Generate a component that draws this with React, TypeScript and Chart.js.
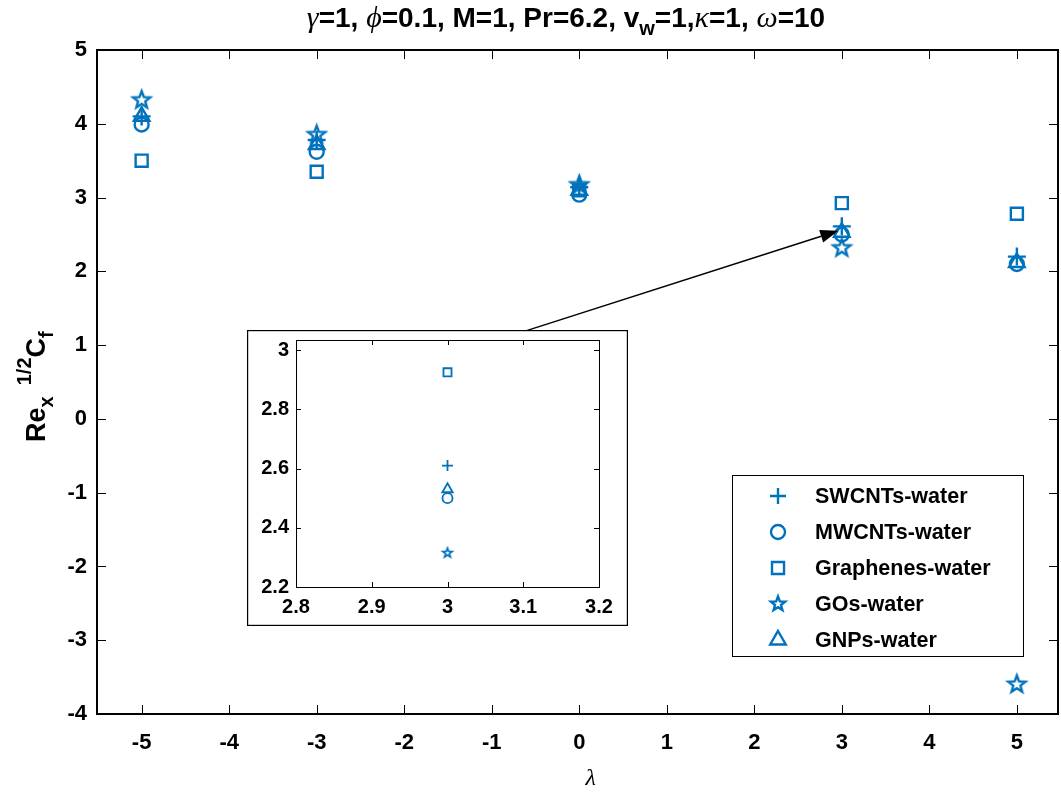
import React, { useEffect, useRef } from 'react';
import { Chart, registerables } from 'chart.js';

Chart.register(...registerables);

// ---------- data ----------
const lambdaValues = [-5, -3, 0, 3, 5];
const swcntsWater = [4.1, 3.78, 3.14, 2.61, 2.2];
const mwcntsWater = [3.99, 3.62, 3.04, 2.5, 2.1];
const graphenesWater = [3.5, 3.35, 3.1, 2.925, 2.78];
const gosWater = [4.32, 3.85, 3.17, 2.315, -3.6];
const gnpsWater = [4.1, 3.72, 3.1, 2.53, 2.12];
const seriesNames = ['SWCNTs-water', 'MWCNTs-water', 'Graphenes-water', 'GOs-water', 'GNPs-water'];

const xTicks = [-5, -4, -3, -2, -1, 0, 1, 2, 3, 4, 5];
const yTicks = [5, 4, 3, 2, 1, 0, -1, -2, -3, -4];
const insetLambda = 3;
const insetXTicks = [2.8, 2.9, 3, 3.1, 3.2];
const insetYTicks = [2.2, 2.4, 2.6, 2.8, 3];

const arrowFrom = { x: -0.62, y: 1.19 };
const arrowTo = { x: 2.96, y: 2.55 };

// ---------- styles ----------
const FONT = '"Liberation Sans", Arial, Helvetica, sans-serif';
const GREEK = '"Liberation Serif", "DejaVu Serif", serif';
const BLUE = '#0072BD';
const seriesValues = [swcntsWater, mwcntsWater, graphenesWater, gosWater, gnpsWater];
const markerStyles = ['cross', 'circle', 'rect', 'star', 'triangle'];
const mainRadius = [9, 7, 8.5, 9, 9];
const insetRadius = [5.5, 5, 5.7, 5, 6];
const legendRadius = [8, 7, 8.5, 7.5, 9];

function pathMarker(ctx: CanvasRenderingContext2D, style: string, x: number, y: number, r: number) {
  ctx.beginPath();
  if (style === 'cross') {
    ctx.moveTo(x - r, y); ctx.lineTo(x + r, y);
    ctx.moveTo(x, y - r); ctx.lineTo(x, y + r);
  } else if (style === 'circle') {
    ctx.arc(x, y, r, 0, Math.PI * 2);
  } else if (style === 'rect') {
    const s = r * Math.SQRT1_2;
    ctx.rect(x - s, y - s, 2 * s, 2 * s);
  } else if (style === 'triangle') {
    for (let k = 0; k < 3; k++) {
      const a = -Math.PI / 2 + (k * 2 * Math.PI) / 3;
      const px = x + r * Math.cos(a), py = y + r * Math.sin(a);
      if (k === 0) ctx.moveTo(px, py); else ctx.lineTo(px, py);
    }
    ctx.closePath();
  } else if (style === 'star') {
    for (let k = 0; k < 10; k++) {
      const a = -Math.PI / 2 + (k * Math.PI) / 5;
      const rr = k % 2 === 0 ? r : r * 0.42;
      const px = x + rr * Math.cos(a), py = y + rr * Math.sin(a);
      if (k === 0) ctx.moveTo(px, py); else ctx.lineTo(px, py);
    }
    ctx.closePath();
  }
}

function makeStarImage(R: number, lw: number) {
  const size = Math.ceil(2 * (R + lw) + 2);
  const c = document.createElement('canvas');
  c.width = size; c.height = size;
  const g = c.getContext('2d')!;
  g.strokeStyle = BLUE; g.lineWidth = lw; g.lineJoin = 'miter';
  pathMarker(g, 'star', size / 2, size / 2, R);
  g.stroke();
  return c;
}

const fmt = (v: number) => String(Math.round(v * 100) / 100);

type Seg = { t: string; f: string; dy?: number };
function drawRich(ctx: CanvasRenderingContext2D, segs: Seg[], x: number, y: number, center: boolean) {
  let total = 0;
  for (const s of segs) { ctx.font = s.f; total += ctx.measureText(s.t).width; }
  let cx = center ? x - total / 2 : x;
  ctx.textBaseline = 'alphabetic';
  ctx.textAlign = 'left';
  for (const s of segs) {
    ctx.font = s.f;
    ctx.fillText(s.t, cx, y + (s.dy || 0));
    cx += ctx.measureText(s.t).width;
  }
}

const zeroPad = (a: any) => { a.paddingLeft = 0; a.paddingRight = 0; a.paddingTop = 0; a.paddingBottom = 0; };

export default function App() {
  const mainRef = useRef<HTMLCanvasElement>(null);
  const insetRef = useRef<HTMLCanvasElement>(null);

  useEffect(() => {
    const mainDatasets = seriesValues.map((vals, i) => ({
      label: seriesNames[i],
      data: lambdaValues.map((x, j) => ({ x, y: vals[j] })),
      showLine: false,
      pointStyle: markerStyles[i] === 'star' ? makeStarImage(mainRadius[i], 2.4) : markerStyles[i],
      pointRadius: mainRadius[i],
      pointBorderWidth: 2.4,
      pointBorderColor: BLUE,
      pointBackgroundColor: 'rgba(0,0,0,0)',
    }));

    const idx = lambdaValues.indexOf(insetLambda);
    const insetDatasets = seriesValues.map((vals, i) => ({
      label: seriesNames[i],
      data: [{ x: lambdaValues[idx], y: vals[idx] }],
      showLine: false,
      pointStyle: markerStyles[i] === 'star' ? makeStarImage(insetRadius[i], 1.7) : markerStyles[i],
      pointRadius: insetRadius[i],
      pointBorderWidth: 1.8,
      pointBorderColor: BLUE,
      pointBackgroundColor: 'rgba(0,0,0,0)',
    }));

    const mainDecor = {
      id: 'mainDecor',
      afterDraw(chart: any) {
        const ctx: CanvasRenderingContext2D = chart.ctx;
        const { left, right, top, bottom } = chart.chartArea;
        const xs = chart.scales.x, ys = chart.scales.y;
        ctx.save();
        // inward ticks
        ctx.strokeStyle = '#000'; ctx.lineWidth = 1;
        ctx.beginPath();
        for (const v of xTicks) {
          const px = Math.round(xs.getPixelForValue(v)) + 0.5;
          ctx.moveTo(px, bottom); ctx.lineTo(px, bottom - 9);
          ctx.moveTo(px, top); ctx.lineTo(px, top + 9);
        }
        for (const v of yTicks) {
          const py = Math.round(ys.getPixelForValue(v)) + 0.5;
          ctx.moveTo(left, py); ctx.lineTo(left + 9, py);
          ctx.moveTo(right, py); ctx.lineTo(right - 9, py);
        }
        ctx.stroke();
        // box
        ctx.lineWidth = 2;
        ctx.strokeRect(left, top, right - left, bottom - top);

        // title
        ctx.fillStyle = '#000';
        const B = `bold 28px ${FONT}`;
        const Bs = `bold 20px ${FONT}`;
        const G = `italic 30px ${GREEK}`;
        drawRich(ctx, [
          { t: 'γ', f: G }, { t: '=1, ', f: B },
          { t: 'ϕ', f: G }, { t: '=0.1, M=1, Pr=6.2, v', f: B },
          { t: 'w', f: Bs, dy: 8 }, { t: '=1,', f: B },
          { t: 'κ', f: G }, { t: '=1, ', f: B },
          { t: 'ω', f: G }, { t: '=10', f: B },
        ], 566, 27, true);

        // x label
        ctx.font = `italic 24px ${GREEK}`;
        ctx.textAlign = 'center'; ctx.textBaseline = 'middle';
        ctx.fillText('λ', xs.getPixelForValue(0.13), 779);

        // y label
        ctx.save();
        ctx.translate(45, 442);
        ctx.rotate(-Math.PI / 2);
        const YB = `bold 27px ${FONT}`;
        const YS = `bold 20px ${FONT}`;
        drawRich(ctx, [
          { t: 'Re', f: YB }, { t: 'x', f: YS, dy: 8 }, { t: '  ', f: YS },
          { t: '1/2', f: YS, dy: -14 }, { t: 'C', f: YB }, { t: 'f', f: YS, dy: 8 },
        ], 0, 0, false);
        ctx.restore();

        // arrow
        const ax0 = xs.getPixelForValue(arrowFrom.x), ay0 = ys.getPixelForValue(arrowFrom.y);
        const ax1 = xs.getPixelForValue(arrowTo.x), ay1 = ys.getPixelForValue(arrowTo.y);
        const ang = Math.atan2(ay1 - ay0, ax1 - ax0);
        const hl = 18, hw = 6.5;
        const bx = ax1 - hl * Math.cos(ang), by = ay1 - hl * Math.sin(ang);
        ctx.strokeStyle = '#000'; ctx.lineWidth = 1.5;
        ctx.beginPath(); ctx.moveTo(ax0, ay0); ctx.lineTo(bx, by); ctx.stroke();
        ctx.beginPath();
        ctx.moveTo(ax1, ay1);
        ctx.lineTo(bx + hw * Math.sin(ang), by - hw * Math.cos(ang));
        ctx.lineTo(bx - hw * Math.sin(ang), by + hw * Math.cos(ang));
        ctx.closePath(); ctx.fillStyle = '#000'; ctx.fill();

        // legend
        const lx = right - 326, ly = 475, lw = 291, lh = 181;
        ctx.fillStyle = '#fff';
        ctx.fillRect(lx, ly, lw, lh);
        ctx.strokeStyle = '#000'; ctx.lineWidth = 1;
        ctx.strokeRect(lx + 0.5, ly + 0.5, lw, lh);
        for (let i = 0; i < seriesNames.length; i++) {
          const ry = ly + 21 + i * 36;
          ctx.strokeStyle = BLUE; ctx.lineWidth = 2.4;
          pathMarker(ctx, markerStyles[i], lx + 46, ry, legendRadius[i]);
          ctx.stroke();
          ctx.fillStyle = '#000';
          ctx.font = `bold 21.5px ${FONT}`;
          ctx.textAlign = 'left'; ctx.textBaseline = 'middle';
          ctx.fillText(seriesNames[i], lx + 83, ry + 1);
        }
        ctx.restore();
      },
    };

    const tickFont = { family: FONT, size: 22, weight: 'bold' as const };
    const main = new Chart(mainRef.current!, {
      type: 'scatter',
      data: { datasets: mainDatasets as any },
      options: {
        responsive: false,
        animation: false,
        events: [],
        layout: { autoPadding: false, padding: { top: 50, right: 3, left: 0, bottom: 0 } },
        plugins: { legend: { display: false }, title: { display: false }, tooltip: { enabled: false } },
        scales: {
          x: {
            type: 'linear', min: -5.51, max: 5.47,
            grid: { display: false, drawTicks: false },
            border: { display: false },
            afterBuildTicks: (a: any) => { a.ticks = xTicks.map((v) => ({ value: v })); },
            afterFit: (a: any) => { a.height = 82; zeroPad(a); },
            ticks: { color: '#000', font: tickFont, padding: 16, maxRotation: 0, autoSkip: false, callback: (v: any) => fmt(Number(v)) },
          },
          y: {
            type: 'linear', min: -4, max: 5,
            grid: { display: false, drawTicks: false },
            border: { display: false },
            afterBuildTicks: (a: any) => { a.ticks = yTicks.map((v) => ({ value: v })); },
            afterFit: (a: any) => { a.width = 97; zeroPad(a); },
            ticks: { color: '#000', font: tickFont, padding: 10, autoSkip: false, callback: (v: any) => fmt(Number(v)) },
          },
        },
      },
      plugins: [mainDecor],
    });

    const insetDecor = {
      id: 'insetDecor',
      beforeDraw(chart: any) {
        const ctx = chart.ctx;
        ctx.save(); ctx.fillStyle = '#fff'; ctx.fillRect(0, 0, chart.width, chart.height); ctx.restore();
      },
      afterDraw(chart: any) {
        const ctx: CanvasRenderingContext2D = chart.ctx;
        const { left, right, top, bottom } = chart.chartArea;
        const xs = chart.scales.x, ys = chart.scales.y;
        ctx.save();
        ctx.strokeStyle = '#000'; ctx.lineWidth = 1;
        ctx.beginPath();
        for (const v of insetXTicks) {
          const px = Math.round(xs.getPixelForValue(v)) + 0.5;
          ctx.moveTo(px, bottom); ctx.lineTo(px, bottom - 5);
          ctx.moveTo(px, top); ctx.lineTo(px, top + 5);
        }
        for (const v of insetYTicks) {
          const py = Math.round(ys.getPixelForValue(v)) + 0.5;
          ctx.moveTo(left, py); ctx.lineTo(left + 5, py);
          ctx.moveTo(right, py); ctx.lineTo(right - 5, py);
        }
        ctx.stroke();
        ctx.strokeRect(Math.round(left) + 0.5, Math.round(top) + 0.5, Math.round(right - left), Math.round(bottom - top));
        ctx.lineWidth = 1.2;
        ctx.strokeRect(0.6, 0.6, chart.width - 1.2, chart.height - 1.2);
        ctx.restore();
      },
    };

    const insetFont = { family: FONT, size: 20, weight: 'bold' as const };
    const inset = new Chart(insetRef.current!, {
      type: 'scatter',
      data: { datasets: insetDatasets as any },
      options: {
        responsive: false,
        animation: false,
        events: [],
        layout: { autoPadding: false, padding: { top: 10, right: 29, left: 0, bottom: 0 } },
        plugins: { legend: { display: false }, title: { display: false }, tooltip: { enabled: false } },
        scales: {
          x: {
            type: 'linear', min: 2.8, max: 3.2,
            grid: { display: false, drawTicks: false },
            border: { display: false },
            afterBuildTicks: (a: any) => { a.ticks = insetXTicks.map((v) => ({ value: v })); },
            afterFit: (a: any) => { a.height = 39; zeroPad(a); },
            ticks: { color: '#000', font: insetFont, padding: 8, maxRotation: 0, autoSkip: false, callback: (v: any) => fmt(Number(v)) },
          },
          y: {
            type: 'linear', min: 2.2, max: 3.034,
            grid: { display: false, drawTicks: false },
            border: { display: false },
            afterBuildTicks: (a: any) => { a.ticks = insetYTicks.map((v) => ({ value: v })); },
            afterFit: (a: any) => { a.width = 49; zeroPad(a); },
            ticks: { color: '#000', font: insetFont, padding: 7, autoSkip: false, callback: (v: any) => fmt(Number(v)) },
          },
        },
      },
      plugins: [insetDecor],
    });

    return () => { main.destroy(); inset.destroy(); };
  }, []);

  return (
    <div style={{ position: 'absolute', left: 0, top: 0, width: 1061, height: 796, background: '#fff' }}>
      <canvas ref={mainRef} width={1061} height={796} style={{ position: 'absolute', left: 0, top: 0 }} />
      <canvas ref={insetRef} width={381} height={296} style={{ position: 'absolute', left: 247, top: 330 }} />
    </div>
  );
}
